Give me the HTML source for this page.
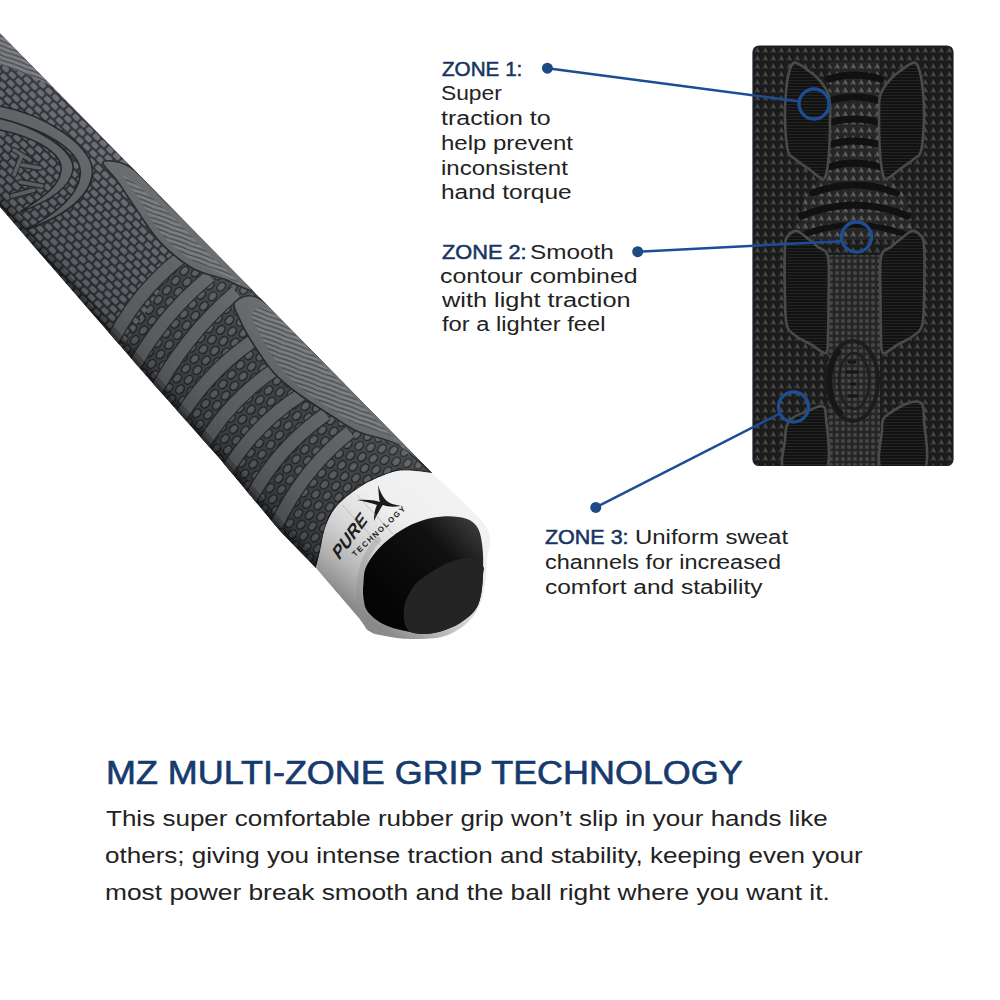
<!DOCTYPE html>
<html><head><meta charset="utf-8">
<style>
html,body{margin:0;padding:0;background:#fff;}
body{width:1000px;height:1000px;position:relative;overflow:hidden;font-family:"Liberation Sans",sans-serif;}
svg{position:absolute;left:0;top:0;}
.t{position:absolute;left:0;white-space:nowrap;transform-origin:0 0;color:#222;}
.z{font-size:19.5px;}
.b{color:#183562;font-weight:normal;-webkit-text-stroke:0.5px #183562;}
.p{font-size:22.5px;}
.h{font-size:32.4px;font-weight:normal;color:#163a6d;-webkit-text-stroke:0.65px #163a6d;}
</style></head><body>
<svg width="1000" height="1000" viewBox="0 0 1000 1000">
<defs>
  <linearGradient id="gripG" gradientUnits="userSpaceOnUse" x1="262" y1="258" x2="170" y2="344">
    <stop offset="0" stop-color="#737679"/>
    <stop offset="0.3" stop-color="#626568"/>
    <stop offset="0.75" stop-color="#55585b"/>
    <stop offset="1" stop-color="#3a3c3f"/>
  </linearGradient>
  <linearGradient id="ferG" gradientUnits="userSpaceOnUse" x1="430" y1="490" x2="345" y2="600">
    <stop offset="0" stop-color="#f2f2f2"/>
    <stop offset="0.3" stop-color="#eeeeee"/>
    <stop offset="0.55" stop-color="#d8d8d8"/>
    <stop offset="0.8" stop-color="#b4b4b4"/>
    <stop offset="1" stop-color="#8a8a8a"/>
  </linearGradient>
  <linearGradient id="tipG" gradientUnits="userSpaceOnUse" x1="480" y1="525" x2="390" y2="610">
    <stop offset="0" stop-color="#3c3c3c"/>
    <stop offset="0.35" stop-color="#111"/>
    <stop offset="1" stop-color="#040404"/>
  </linearGradient>
  <pattern id="snake" patternUnits="userSpaceOnUse" width="9.4" height="14" patternTransform="rotate(44)">
    <rect width="9.4" height="14" fill="#303438"/>
    <rect x="1" y="1" width="7.4" height="5" rx="1.5" fill="#686c71"/>
    <rect x="-3.7" y="8" width="7.4" height="5" rx="1.5" fill="#686c71"/>
    <rect x="5.7" y="8" width="7.4" height="5" rx="1.5" fill="#686c71"/>
  </pattern>
  <pattern id="stri" patternUnits="userSpaceOnUse" width="24" height="4.4" patternTransform="rotate(20)">
    <rect width="24" height="4.4" fill="#74777b"/>
    <path d="M0,3.2 Q12,2.2 24,3.2" fill="none" stroke="#45484b" stroke-width="1.3"/>
    <path d="M0,1 Q12,0 24,1" fill="none" stroke="#7f8286" stroke-width="0.8"/>
  </pattern>
  <pattern id="rings" patternUnits="userSpaceOnUse" width="13" height="19" patternTransform="rotate(-48)">
    <rect width="13" height="19" fill="#46494c"/>
    <ellipse cx="6.5" cy="4.75" rx="4.9" ry="3.7" fill="#5f6265" stroke="#1e2124" stroke-width="1.3"/>
    <ellipse cx="0" cy="14.25" rx="4.9" ry="3.7" fill="#5f6265" stroke="#1e2124" stroke-width="1.3"/>
    <ellipse cx="13" cy="14.25" rx="4.9" ry="3.7" fill="#5f6265" stroke="#1e2124" stroke-width="1.3"/>
  </pattern>
  <linearGradient id="shade" gradientUnits="userSpaceOnUse" x1="250" y1="288" x2="150" y2="386">
    <stop offset="0" stop-color="#fff" stop-opacity="0.04"/>
    <stop offset="0.3" stop-color="#000" stop-opacity="0.04"/>
    <stop offset="0.75" stop-color="#000" stop-opacity="0.12"/>
    <stop offset="1" stop-color="#000" stop-opacity="0.25"/>
  </linearGradient>
  <pattern id="dots" patternUnits="userSpaceOnUse" width="8" height="8" x="753" y="46">
    <rect width="8" height="8" fill="#1b1b1b"/>
    <path d="M4,1 L7,6.5 L1,6.5 Z" fill="#353535"/>
    <path d="M4,1 L7,6.5 L4,5 Z" fill="#4e4e4e"/>
  </pattern>
  <pattern id="dots2" patternUnits="userSpaceOnUse" width="8" height="8" x="753" y="46">
    <rect width="8" height="8" fill="#262626"/>
    <path d="M4,1 L7,6.5 L1,6.5 Z" fill="#4a4a4a"/>
    <path d="M4,1 L7,6.5 L4,5 Z" fill="#666"/>
  </pattern>
  <pattern id="hl" patternUnits="userSpaceOnUse" width="6" height="3">
    <rect width="6" height="3" fill="#121212"/>
    <rect y="2" width="6" height="1" fill="#242424"/>
  </pattern>
  <pattern id="peb" patternUnits="userSpaceOnUse" width="6" height="6">
    <rect width="6" height="6" fill="#262626"/>
    <circle cx="3" cy="3" r="2" fill="#474747"/>
  </pattern>
  <clipPath id="rectClip"><rect x="753" y="46" width="200" height="419.5" rx="6"/></clipPath>
  <clipPath id="ferClip"><path d="M432.0,473.0 C441.0,482.0 476.8,512.5 486.0,527.0 C495.2,541.5 487.5,548.7 487.0,560.0 C486.5,571.3 485.8,585.0 483.0,595.0 C480.2,605.0 476.3,613.2 470.0,620.0 C463.7,626.8 454.8,632.8 445.0,636.0 C435.2,639.2 421.0,639.0 411.0,639.0 C401.0,639.0 392.0,637.3 385.0,636.0 C378.0,634.7 373.5,634.2 369.0,631.0 C364.5,627.8 366.8,627.5 358.0,617.0 C349.2,606.5 323.0,576.2 316.0,568.0 C316.7,565.0 319.1,556.0 320.4,550.0 C321.7,544.0 322.4,537.6 324.0,532.0 C325.6,526.4 327.4,521.2 330.0,516.4 C332.6,511.6 335.6,507.4 339.6,503.2 C343.6,499.0 348.6,495.0 354.0,491.2 C359.4,487.4 364.3,483.8 372.0,480.4 C379.7,477.0 390.0,472.0 400.0,470.8 C410.0,469.6 426.7,472.6 432.0,473.0 Z"/></clipPath>
  <clipPath id="gripClip"><path d="M-10,23 L432,473 C426.7,472.6 410.0,469.6 400.0,470.8 C390.0,472.0 379.7,477.0 372.0,480.4 C364.3,483.8 359.4,487.4 354.0,491.2 C348.6,495.0 343.6,499.0 339.6,503.2 C335.6,507.4 332.6,511.6 330.0,516.4 C327.4,521.2 325.6,526.4 324.0,532.0 C322.4,537.6 321.7,544.0 320.4,550.0 C319.1,556.0 316.7,565.0 316.0,568.0 L316,568 L280,531 L220,459 L150,380 L37,250 L0,207 L-10,196 Z"/></clipPath>
</defs>
<path d="M-10,23 L432,473 C426.7,472.6 410.0,469.6 400.0,470.8 C390.0,472.0 379.7,477.0 372.0,480.4 C364.3,483.8 359.4,487.4 354.0,491.2 C348.6,495.0 343.6,499.0 339.6,503.2 C335.6,507.4 332.6,511.6 330.0,516.4 C327.4,521.2 325.6,526.4 324.0,532.0 C322.4,537.6 321.7,544.0 320.4,550.0 C319.1,556.0 316.7,565.0 316.0,568.0 L316,568 L280,531 L220,459 L150,380 L37,250 L0,207 L-10,196 Z" fill="url(#snake)"/>
<g clip-path="url(#gripClip)">
  <path d="M-12.0,21.0 C8.7,32.3 96.0,114.2 112.0,128.0 C128.0,141.8 94.7,111.3 84.0,104.0 C73.3,96.7 62.0,90.7 48.0,84.0 C34.0,77.3 10.0,68.0 0.0,64.0 C-10.0,60.0 -10.0,67.2 -12.0,60.0 C-14.0,52.8 -32.7,9.7 -12.0,21.0Z" fill="url(#stri)"/>
  <path d="M178.0,262.0 L195.0,268.0 L224.0,279.0 L252.0,292.0 L238.0,318.0 L254.0,342.0 L270.0,370.0 L300.0,390.0 L332.0,416.0 L359.0,432.0 L398.0,446.0 L436.0,470.0 L450.0,490.0 L330.0,600.0 L300.0,560.0 L280.0,531.0 L220.0,459.0 L150.0,380.0 L122.0,348.0Z" fill="url(#rings)"/>
  <g stroke="#2b2e31" stroke-width="15" stroke-linecap="butt" fill="none"><path d="M108,350 Q133.6,294.6 180,258"/><path d="M128,378 Q158.6,317.6 210,276"/><path d="M150,402 Q182.6,337.6 236,292"/><path d="M174,428 Q203.6,374.6 254,340"/><path d="M199,452 Q227.6,400.6 277,368"/><path d="M224,476 Q252.6,425.6 302,394"/><path d="M250,500 Q277.6,447.6 326,414"/><path d="M276,526 Q302.6,469.6 350,432"/></g>
  <g stroke="#65686b" stroke-width="12.5" stroke-linecap="butt" fill="none"><path d="M108,350 Q133.6,294.6 180,258"/><path d="M128,378 Q158.6,317.6 210,276"/><path d="M150,402 Q182.6,337.6 236,292"/><path d="M174,428 Q203.6,374.6 254,340"/><path d="M199,452 Q227.6,400.6 277,368"/><path d="M224,476 Q252.6,425.6 302,394"/><path d="M250,500 Q277.6,447.6 326,414"/><path d="M276,526 Q302.6,469.6 350,432"/></g>
  <path d="M103.0,162.0 C105.0,159.5 119.7,160.5 130.0,167.0 C140.3,173.5 151.7,188.0 165.0,201.0 C178.3,214.0 195.5,230.3 210.0,245.0 C224.5,259.7 249.7,283.3 252.0,289.0 C254.3,294.7 234.0,282.5 224.0,279.0 C214.0,275.5 202.7,274.2 192.0,268.0 C181.3,261.8 169.0,251.3 160.0,242.0 C151.0,232.7 145.0,222.0 138.0,212.0 C131.0,202.0 123.8,190.3 118.0,182.0 C112.2,173.7 101.0,164.5 103.0,162.0Z" fill="#66696c" stroke="#26292c" stroke-width="1.6"/>
  <path d="M124.0,176.0 C127.3,176.8 146.5,192.7 160.0,205.0 C173.5,217.3 191.7,236.8 205.0,250.0 C218.3,263.2 237.8,280.3 240.0,284.0 C242.2,287.7 226.7,276.3 218.0,272.0 C209.3,267.7 197.7,264.7 188.0,258.0 C178.3,251.3 168.0,241.7 160.0,232.0 C152.0,222.3 146.0,209.3 140.0,200.0 C134.0,190.7 120.7,175.2 124.0,176.0Z" fill="url(#stri)"/>
  <path d="M235.0,302.0 C238.7,298.7 247.8,290.7 262.0,300.0 C276.2,309.3 300.3,338.2 320.0,358.0 C339.7,377.8 361.2,399.7 380.0,419.0 C398.8,438.3 430.0,469.7 433.0,474.0 C436.0,478.3 410.3,452.0 398.0,445.0 C385.7,438.0 370.0,436.8 359.0,432.0 C348.0,427.2 341.8,422.2 332.0,416.0 C322.2,409.8 309.7,402.2 300.0,395.0 C290.3,387.8 282.0,381.8 274.0,373.0 C266.0,364.2 257.7,350.8 252.0,342.0 C246.3,333.2 242.8,326.7 240.0,320.0 C237.2,313.3 231.3,305.3 235.0,302.0Z" fill="#66696c" stroke="#26292c" stroke-width="1.6"/>
  <path d="M252.0,314.0 C254.0,310.3 259.0,302.3 272.0,312.0 C285.0,321.7 312.3,353.7 330.0,372.0 C347.7,390.3 364.3,407.7 378.0,422.0 C391.7,436.3 409.7,455.5 412.0,458.0 C414.3,460.5 401.3,442.7 392.0,437.0 C382.7,431.3 367.0,429.2 356.0,424.0 C345.0,418.8 336.0,412.7 326.0,406.0 C316.0,399.3 304.7,392.0 296.0,384.0 C287.3,376.0 280.0,366.3 274.0,358.0 C268.0,349.7 263.7,341.3 260.0,334.0 C256.3,326.7 250.0,317.7 252.0,314.0Z" fill="url(#stri)"/>
  <path d="M-12,104 C45,112 98,148 92,176 C88,200 60,218 26,230 C55,214 78,196 80,176 C84,150 40,125 -12,118 Z" fill="#66696c" stroke="#26292c" stroke-width="1.6"/>
  <path d="M-12,116 C35,124 76,150 73,170 C70,188 48,202 20,212 C42,198 60,186 61,170 C63,152 30,134 -12,128 Z" fill="#66696c" stroke="#26292c" stroke-width="1.6"/>
  <g fill="none" stroke="#2e3134" stroke-width="6" stroke-linecap="round">
    <path d="M14,150 L30,160 M22,155 L14,175 M22,165 L40,168 M20,182 L42,186 M12,196 L34,190"/>
  </g>
  <g fill="none" stroke="#66696c" stroke-width="3.5" stroke-linecap="round">
    <path d="M14,150 L30,160 M22,155 L14,175 M22,165 L40,168 M20,182 L42,186 M12,196 L34,190"/>
  </g>
  <path d="M-10,23 L432,473 C426.7,472.6 410.0,469.6 400.0,470.8 C390.0,472.0 379.7,477.0 372.0,480.4 C364.3,483.8 359.4,487.4 354.0,491.2 C348.6,495.0 343.6,499.0 339.6,503.2 C335.6,507.4 332.6,511.6 330.0,516.4 C327.4,521.2 325.6,526.4 324.0,532.0 C322.4,537.6 321.7,544.0 320.4,550.0 C319.1,556.0 316.7,565.0 316.0,568.0 L316,568 L280,531 L220,459 L150,380 L37,250 L0,207 L-10,196 Z" fill="url(#shade)"/>
  <path d="M-10,196 L0,207 L37,250 L150,380 L220,459 L280,531 L315,566" fill="none" stroke="#000" stroke-opacity="0.22" stroke-width="16"/>
  <path d="M-10,196 L0,207 L37,250 L150,380 L220,459 L280,531 L315,566" fill="none" stroke="#000" stroke-opacity="0.25" stroke-width="7"/>
  <path d="M432,473 C426.7,472.6 410.0,469.6 400.0,470.8 C390.0,472.0 379.7,477.0 372.0,480.4 C364.3,483.8 359.4,487.4 354.0,491.2 C348.6,495.0 343.6,499.0 339.6,503.2 C335.6,507.4 332.6,511.6 330.0,516.4 C327.4,521.2 325.6,526.4 324.0,532.0 C322.4,537.6 321.7,544.0 320.4,550.0 C319.1,556.0 316.7,565.0 316.0,568.0" fill="none" stroke="#000" stroke-opacity="0.35" stroke-width="3"/>
</g>
<path d="M432.0,473.0 C441.0,482.0 476.8,512.5 486.0,527.0 C495.2,541.5 487.5,548.7 487.0,560.0 C486.5,571.3 485.8,585.0 483.0,595.0 C480.2,605.0 476.3,613.2 470.0,620.0 C463.7,626.8 454.8,632.8 445.0,636.0 C435.2,639.2 421.0,639.0 411.0,639.0 C401.0,639.0 392.0,637.3 385.0,636.0 C378.0,634.7 373.5,634.2 369.0,631.0 C364.5,627.8 366.8,627.5 358.0,617.0 C349.2,606.5 323.0,576.2 316.0,568.0 C316.7,565.0 319.1,556.0 320.4,550.0 C321.7,544.0 322.4,537.6 324.0,532.0 C325.6,526.4 327.4,521.2 330.0,516.4 C332.6,511.6 335.6,507.4 339.6,503.2 C343.6,499.0 348.6,495.0 354.0,491.2 C359.4,487.4 364.3,483.8 372.0,480.4 C379.7,477.0 390.0,472.0 400.0,470.8 C410.0,469.6 426.7,472.6 432.0,473.0 Z" fill="url(#ferG)"/>
<g fill="#1c1c1c" font-family="Liberation Sans">
  <text transform="translate(339,561) rotate(-54) skewX(-20)" font-weight="bold" font-size="17.5" letter-spacing="0.2">PURE</text>
  <text transform="translate(355,557) rotate(-43)" font-weight="bold" font-size="7.8" letter-spacing="1.6">TECHNOLOGY</text>
</g>
<path d="M378,485 C381,494 384,500 390,503 C394,505 399,505 401,506 C394,507 388,507 383,505 C380,503 379,500 379,497 Z M357,500 C366,499 376,500 384,503 C381,508 377,514 374,521 C374,514 375,509 377,505 C371,503 364,501 357,500 Z" fill="#1a1a1a"/>
<g stroke="#9a9a9a" stroke-width="0.6" fill="none" opacity="0.8">
  <path d="M342,505 L380,545"/><path d="M357,495 L393,534"/>
</g>
<path d="M366,626 C357,605 357,578 366,558 C369,551 373,545 378,540" fill="none" stroke="#8a8a8a" stroke-width="6" stroke-opacity="0.35" stroke-linecap="round" clip-path="url(#ferClip)"/>
<path d="M363.4,583.4 C363.9,578.3 363.4,572.7 366.2,566.6 C369.0,560.5 374.4,553.1 380.2,547.0 C386.0,540.9 394.2,534.6 401.2,530.2 C408.2,525.8 414.7,522.7 422.2,520.4 C429.7,518.1 438.5,516.4 446.0,516.2 C453.5,516.0 461.6,516.9 467.0,519.0 C472.4,521.1 475.6,524.1 478.2,528.8 C480.8,533.5 481.6,540.5 482.4,547.0 C483.2,553.5 483.3,560.1 483.1,568.0 C482.9,575.9 482.5,587.4 481.0,594.6 C479.5,601.8 478.7,606.0 474.0,611.4 C469.3,616.8 460.7,623.1 453.0,626.8 C445.3,630.5 435.7,633.1 427.8,633.8 C419.9,634.5 412.9,632.6 405.4,631.0 C397.9,629.4 389.3,627.3 383.0,624.0 C376.7,620.7 370.9,615.8 367.6,611.4 C364.3,607.0 364.1,602.1 363.4,597.4 C362.7,592.7 362.9,588.5 363.4,583.4Z" fill="url(#tipG)"/>
<path d="M408.0,630.0 C404.0,625.8 403.0,615.9 404.0,608.6 C405.0,601.3 408.9,592.5 413.8,586.2 C418.7,579.9 426.9,575.0 433.4,570.8 C439.9,566.6 446.7,563.1 453.0,561.0 C459.3,558.9 466.2,557.4 471.2,558.2 C476.2,559.0 481.0,563.2 483.0,566.0 C485.0,568.8 483.4,570.2 483.1,575.0 C482.8,579.8 482.5,588.5 481.0,594.6 C479.5,600.7 478.7,606.0 474.0,611.4 C469.3,616.8 460.7,623.1 453.0,626.8 C445.3,630.5 435.3,633.3 427.8,633.8 C420.3,634.3 412.0,634.2 408.0,630.0Z" fill="#242424"/>
<rect x="753" y="46" width="200" height="419.5" rx="6" fill="url(#dots)" stroke="#1c2230" stroke-width="1.2"/>
<g clip-path="url(#rectClip)">
  <rect x="829" y="255" width="51" height="215" fill="url(#peb)"/>
  <path d="M830,62 L880,62 L880,170 L905,195 L915,240 L795,240 L805,195 L830,170 Z" fill="url(#dots2)"/>
  <g fill="none" stroke="#111" stroke-linecap="round" clip-path="url(#rectClip)"><path d="M828.5,79 Q854.5,71 880.5,79" stroke-width="7"/><path d="M828.5,101 Q854.5,93 880.5,101" stroke-width="7"/><path d="M828.5,123 Q854.5,115 880.5,123" stroke-width="7"/><path d="M828.5,145 Q854.5,137 880.5,145" stroke-width="7"/><path d="M828.5,167 Q854.5,159 880.5,167" stroke-width="7"/><path d="M812.5,193 Q854.5,177 896.5,193" stroke-width="7"/><path d="M801.5,216 Q854.5,194 907.5,216" stroke-width="7"/><path d="M792.5,239 Q854.5,211 916.5,239" stroke-width="6"/></g>
  <path d="M795.0,62.6 C798.3,62.6 804.8,68.0 809.0,71.0 C813.2,74.0 816.7,76.8 820.0,80.8 C823.3,84.8 826.9,89.4 828.6,94.8 C830.3,100.2 829.9,104.1 830.0,113.0 C830.1,121.9 829.8,138.7 829.3,148.0 C828.8,157.3 828.2,163.8 827.2,169.0 C826.2,174.2 826.0,179.0 823.0,179.0 C820.0,179.0 813.7,172.3 809.0,169.0 C804.3,165.7 798.5,162.0 795.0,159.0 C791.5,156.0 789.7,157.5 788.0,151.0 C786.3,144.5 785.3,129.8 785.0,120.0 C784.7,110.2 785.3,100.2 786.0,92.0 C786.7,83.8 787.9,75.9 789.4,71.0 C790.9,66.1 791.7,62.6 795.0,62.6Z" fill="url(#hl)" stroke="#4a4a4a" stroke-width="2.6"/><path d="M914.0,62.6 C910.7,62.6 904.2,68.0 900.0,71.0 C895.8,74.0 892.3,76.8 889.0,80.8 C885.7,84.8 882.1,89.4 880.4,94.8 C878.7,100.2 879.1,104.1 879.0,113.0 C878.9,121.9 879.2,138.7 879.7,148.0 C880.2,157.3 880.8,163.8 881.8,169.0 C882.8,174.2 883.0,179.0 886.0,179.0 C889.0,179.0 895.3,172.3 900.0,169.0 C904.7,165.7 910.5,162.0 914.0,159.0 C917.5,156.0 919.3,157.5 921.0,151.0 C922.7,144.5 923.7,129.8 924.0,120.0 C924.3,110.2 923.7,100.2 923.0,92.0 C922.3,83.8 921.1,75.9 919.6,71.0 C918.1,66.1 917.3,62.6 914.0,62.6Z" fill="url(#hl)" stroke="#4a4a4a" stroke-width="2.6"/><path d="M785.0,246.0 C785.7,235.2 787.0,237.5 789.0,235.0 C791.0,232.5 794.0,230.5 797.0,231.0 C800.0,231.5 803.5,235.3 807.0,238.0 C810.5,240.7 814.5,243.8 818.0,247.0 C821.5,250.2 826.2,248.2 828.0,257.0 C829.8,265.8 828.5,287.0 828.5,300.0 C828.5,313.0 828.4,326.2 828.0,335.0 C827.6,343.8 828.7,351.3 826.0,353.0 C823.3,354.7 817.0,347.8 812.0,345.0 C807.0,342.2 800.2,339.2 796.0,336.0 C791.8,332.8 788.8,332.0 787.0,326.0 C785.2,320.0 785.3,313.3 785.0,300.0 C784.7,286.7 784.3,256.8 785.0,246.0Z" fill="url(#hl)" stroke="#4a4a4a" stroke-width="2.6"/><path d="M924.0,246.0 C923.3,235.2 922.0,237.5 920.0,235.0 C918.0,232.5 915.0,230.5 912.0,231.0 C909.0,231.5 905.5,235.3 902.0,238.0 C898.5,240.7 894.5,243.8 891.0,247.0 C887.5,250.2 882.8,248.2 881.0,257.0 C879.2,265.8 880.5,287.0 880.5,300.0 C880.5,313.0 880.6,326.2 881.0,335.0 C881.4,343.8 880.3,351.3 883.0,353.0 C885.7,354.7 892.0,347.8 897.0,345.0 C902.0,342.2 908.8,339.2 913.0,336.0 C917.2,332.8 920.2,332.0 922.0,326.0 C923.8,320.0 923.7,313.3 924.0,300.0 C924.3,286.7 924.7,256.8 924.0,246.0Z" fill="url(#hl)" stroke="#4a4a4a" stroke-width="2.6"/><path d="M785.0,440.0 C785.3,432.5 785.5,428.8 787.0,425.0 C788.5,421.2 790.8,419.2 794.0,417.0 C797.2,414.8 801.3,413.8 806.0,412.0 C810.7,410.2 818.7,405.0 822.0,406.0 C825.3,407.0 825.3,407.3 826.0,418.0 C826.7,428.7 832.8,461.3 826.0,470.0 C819.2,478.7 791.8,475.0 785.0,470.0 C778.2,465.0 784.7,447.5 785.0,440.0Z" fill="url(#hl)" stroke="#4a4a4a" stroke-width="2.6"/><path d="M882.0,430.0 C882.3,421.3 881.3,421.7 884.0,418.0 C886.7,414.3 893.3,410.7 898.0,408.0 C902.7,405.3 908.0,402.7 912.0,402.0 C916.0,401.3 920.0,401.0 922.0,404.0 C924.0,407.0 923.7,409.0 924.0,420.0 C924.3,431.0 931.0,461.7 924.0,470.0 C917.0,478.3 889.0,476.7 882.0,470.0 C875.0,463.3 881.7,438.7 882.0,430.0Z" fill="url(#hl)" stroke="#4a4a4a" stroke-width="2.6"/>
  <ellipse cx="853" cy="381" rx="25" ry="40" fill="url(#peb)" stroke="#1c1c1c" stroke-width="4"/>
  <path d="M840,350 C826,365 826,400 842,414" fill="none" stroke="#161616" stroke-width="5"/>
  <ellipse cx="854" cy="381" rx="15" ry="28" fill="none" stroke="#1f1f1f" stroke-width="2.5"/>
  <path d="M848,362 L856,362 M846,372 L858,372 M850,384 L856,384 M848,396 L858,396" stroke="#151515" stroke-width="3"/>
</g>
<g stroke="#1d4d94" fill="none">
  <line x1="547.4" y1="68.2" x2="800" y2="101.5" stroke-width="2.5"/>
  <line x1="637.7" y1="251.7" x2="841" y2="241.3" stroke-width="2.5"/>
  <line x1="595.8" y1="507.4" x2="779" y2="414" stroke-width="2.5"/>
  <circle cx="814" cy="104" r="15" stroke-width="3.3"/>
  <circle cx="856.5" cy="237" r="15" stroke-width="3.3"/>
  <circle cx="793.5" cy="407" r="15" stroke-width="3.3"/>
</g>
<g fill="#1b4a85">
  <circle cx="547.4" cy="68.2" r="5.5"/>
  <circle cx="637.7" cy="251.7" r="5.5"/>
  <circle cx="595.8" cy="507.4" r="5.5"/>
</g>
</svg>
<div class="t z b" style="top:57.6px;left:441.9px;transform:scaleX(1.0595)">ZONE 1:</div>
<div class="t z" style="top:82.4px;left:441.0px;transform:scaleX(1.1686)">Super</div>
<div class="t z" style="top:107.2px;left:441.2px;transform:scaleX(1.2810)">traction to</div>
<div class="t z" style="top:132.0px;left:441.1px;transform:scaleX(1.2302)">help prevent</div>
<div class="t z" style="top:156.6px;left:441.1px;transform:scaleX(1.2314)">inconsistent</div>
<div class="t z" style="top:181.2px;left:440.9px;transform:scaleX(1.2549)">hand torque</div>
<div class="t z b" style="top:240.6px;left:441.9px;transform:scaleX(1.1162)">ZONE 2:</div>
<div class="t z" style="top:240.6px;left:530.0px;transform:scaleX(1.2462)">Smooth</div>
<div class="t z" style="top:264.6px;left:440.3px;transform:scaleX(1.2743)">contour combined</div>
<div class="t z" style="top:289.0px;left:442.0px;transform:scaleX(1.2986)">with light traction</div>
<div class="t z" style="top:313.0px;left:442.0px;transform:scaleX(1.2165)">for a lighter feel</div>
<div class="t z b" style="top:526.0px;left:545.4px;transform:scaleX(1.1014)">ZONE 3:</div>
<div class="t z" style="top:526.0px;left:634.6px;transform:scaleX(1.2285)">Uniform sweat</div>
<div class="t z" style="top:551.0px;left:545.2px;transform:scaleX(1.2026)">channels for increased</div>
<div class="t z" style="top:575.8px;left:545.0px;transform:scaleX(1.2541)">comfort and stability</div>
<div class="t h" style="top:754.8px;left:106.4px;transform:scaleX(1.1091)">MZ MULTI-ZONE GRIP TECHNOLOGY</div>
<div class="t p" style="top:806.2px;left:106.0px;transform:scaleX(1.1567)">This super comfortable rubber grip won’t slip in your hands like</div>
<div class="t p" style="top:843.2px;left:104.6px;transform:scaleX(1.1569)">others; giving you intense traction and stability, keeping even your</div>
<div class="t p" style="top:880.4px;left:104.6px;transform:scaleX(1.1708)">most power break smooth and the ball right where you want it.</div>
</body></html>
